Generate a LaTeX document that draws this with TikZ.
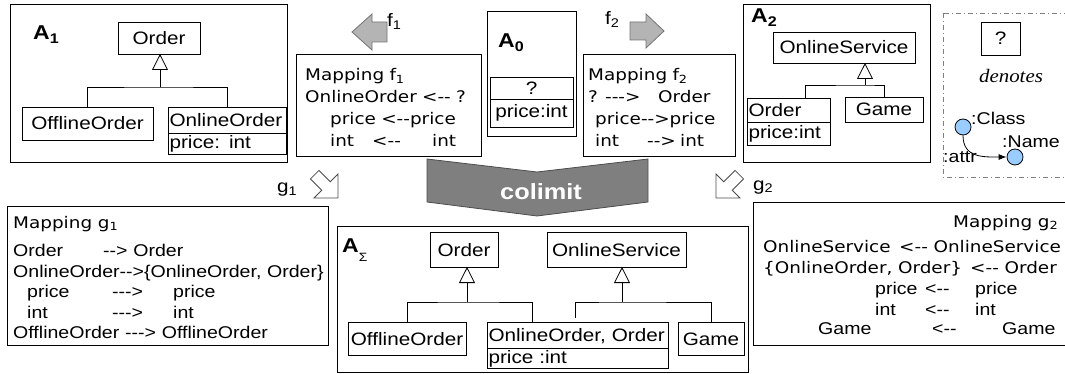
\documentclass[tikz,border=0pt]{standalone}
\usepackage{fontspec}
\setmainfont[FakeStretch=1.15]{Liberation Sans}
\newfontfamily\vfam[FakeStretch=1.15]{DejaVu Sans}
\newfontfamily\tfam[FakeStretch=1.1]{Liberation Serif}
\usetikzlibrary{arrows.meta,calc,positioning}
\definecolor{arrgray}{RGB}{180,180,180}
\definecolor{colgray}{RGB}{127,127,127}
\definecolor{dotblue}{RGB}{153,204,255}
\newcommand\cfont{\fontsize{18}{20}\selectfont}
\newcommand\afont{\fontsize{17}{20.5}\selectfont}
\newcommand\vtxt{\vfam\fontsize{16}{20.5}\selectfont}
\newcommand\putat[2]{\makebox[0pt][l]{\hspace*{#1}#2}}
\newcommand\lar{<\kern0pt-\kern0pt-}
\newcommand\rar{-\kern0pt->}
\newcommand\rrar{-\kern0pt-\kern0pt->}
\newcommand\alab[1]{\textbf{A}\textsubscript{\textbf{#1}}}

\begin{document}
\begin{tikzpicture}[x=1pt,y=-1pt,
  pane/.style={draw,line width=1pt,inner sep=0pt,outer sep=0pt},
  box/.style={draw,line width=0.8pt,inner sep=1.5pt,outer sep=0pt,font=\cfont,text height=13pt,text depth=0pt},
  slot/.style={box,align=left},
  attr/.style={text depth=3pt},
  lab/.style={anchor=base west,inner sep=0pt,font=\fontsize{17}{17}\selectfont},
  albl/.style={lab,font=\fontsize{20}{20}\selectfont},
  maptxt/.style={anchor=base west,inner sep=0pt,text width=330pt,align=left},
  inh/.style={-{Triangle[open,length=16pt,width=16pt]},line width=0.8pt},
  link/.style={line width=0.8pt},
  farr/.style={fill=arrgray,draw=black!55,line width=0.8pt},
  garr/.style={fill=white,draw=black!70,line width=0.8pt},
  dot/.style={circle,draw,fill=dotblue,minimum size=16pt,inner sep=0pt,line width=0.8pt}]
\useasboundingbox (0,0) rectangle (1065,374);
% A1
\node[pane,minimum width=277,minimum height=158] (A1) at (148.5,84) {};
\node[albl] (A1l) at (33,40) {\alab{1}};
\node[box,minimum width=82,minimum height=32] (ord1) at (159,38) {Order};
\node[box,minimum width=131,minimum height=33] (off1) at (87.5,123.5) {OfflineOrder};
\node[slot,text width=115,minimum height=26] (onl1) at (227,120) {OnlineOrder};
\node[slot,attr,text width=115,minimum height=21,below=0pt of onl1] (onl1a) {price: int};
\coordinate (j1) at (160,87);
\draw[link] (off1.north) |- (j1) -| (onl1.north);
\draw[inh] (j1) -- (j1 |- ord1.south);
% f1
\draw[farr] (352,32) -- (372,14) -- (372,22) -- (387,22) -- (387,42) -- (372,42) -- (372,50) -- cycle;
\node[lab,font=\cfont] (f1l) at (387,27) {f\textsubscript{1}};
\node[pane,minimum width=185,minimum height=102] (m1) at (388.5,106) {};
\node[maptxt,font=\vfam\fontsize{16}{22}\selectfont] (m1t) at (305,81) {Mapping f\textsubscript{1}\\
OnlineOrder \lar\ ?\\
\putat{25pt}{price \lar price}\\
\putat{25pt}{int}\putat{67pt}{\lar}\putat{127pt}{int}};
% A0
\node[pane,minimum width=89,minimum height=125] (A0) at (531.5,74.5) {};
\node[albl] (A0l) at (498,48) {\alab{0}};
\node[box,minimum width=83,minimum height=22] (q0) at (531.5,88) {?};
\node[box,attr,minimum width=83,minimum height=28,below=0pt of q0] (q0a) {price:int};
% f2
\draw[farr] (664,31) -- (646,14) -- (646,22) -- (630,22) -- (630,40) -- (646,40) -- (646,48) -- cycle;
\node[lab,font=\cfont] (f2l) at (605,25) {f\textsubscript{2}};
\node[pane,minimum width=152,minimum height=102] (m2) at (659,106) {};
\node[maptxt,font=\vfam\fontsize{16}{22}\selectfont] (m2t) at (588,81) {Mapping f\textsubscript{2}\\
\putat{0pt}{?}\putat{17pt}{\rrar}\putat{70pt}{Order}\\
\putat{7pt}{price\rar price}\\
\putat{7pt}{int}\putat{59pt}{\rar}\putat{92pt}{int}};
% A2
\node[pane,minimum width=187,minimum height=158] (A2) at (836.5,84) {};
\node[albl] (A2l) at (751,23) {\alab{2}};
\node[box,minimum width=142,minimum height=31] (os2) at (844,47.5) {OnlineService};
\node[slot,text width=80,minimum height=24] (ord2) at (788.5,110) {Order};
\node[slot,attr,text width=80,minimum height=23,below=0pt of ord2] (ord2a) {price:int};
\node[box,minimum width=78,minimum height=25] (gam2) at (884,109.5) {Game};
\coordinate (j2) at (865,85); \coordinate (l2) at (805,85);
\draw[link] (ord2.north -| l2) -- (l2) -- (j2) -| (gam2.north);
\draw[inh] (j2) -- (j2 |- os2.south);
% legend
\draw[gray,line width=0.8pt,dash pattern=on 5pt off 3pt on 1pt off 3pt] (943,13) rectangle (1070,177);
\node[box,minimum width=39,minimum height=33] (qL) at (1000.5,38.5) {?};
\node[anchor=base,inner sep=0pt,font=\tfam\itshape\fontsize{19}{19}\selectfont] (den) at (1011,83) {denotes};
\node[dot] (cls) at (963,127) {};
\node[dot] (nam) at (1015,157) {};
\draw[-{Latex[length=8pt,width=6pt]},line width=0.8pt] (cls) to[out=-90,in=180,looseness=1.2] (nam);
\node[lab] (clsl) at (971,125) {:Class};
\node[lab] (naml) at (1002,148) {:Name};
\node[lab] (attl) at (943,163) {:attr};
% colimit
\draw[fill=colgray,draw=black!70,line width=0.8pt] (427,159) -- (537,172) -- (648,159) -- (648,202) -- (537,216) -- (427,202) -- cycle;
\node[anchor=base,inner sep=0pt,text=white,font=\bfseries\fontsize{22}{22}\selectfont] (colim) at (541,200) {colimit};
% g1, g2
\foreach \tx/\ty/\r in {338/198/-45,716/198/-135}
  \draw[garr,shift={(\tx,\ty)},rotate=\r] (0,0) -- (-17,17) -- (-17,6) -- (-33,6) -- (-33,-6) -- (-17,-6) -- (-17,-17) -- cycle;
\node[lab,font=\cfont] (g1l) at (277,193) {g\textsubscript{1}};
\node[lab,font=\cfont] (g2l) at (753,190) {g\textsubscript{2}};
\node[pane,minimum width=321,minimum height=138] (m3) at (167.5,276) {};
\node[maptxt,font=\afont] (m3t) at (13,228) {{\vtxt Mapping g\textsubscript{1}}\\[8pt]
\putat{0pt}{Order}\putat{90pt}{\rar\ Order}\\
OnlineOrder\rar\{OnlineOrder, Order\}\\
\putat{14pt}{price}\putat{99pt}{\rrar}\putat{160pt}{price}\\
\putat{14pt}{int}\putat{99pt}{\rrar}\putat{160pt}{int}\\
\putat{0pt}{OfflineOrder}\putat{112pt}{\rrar\ OfflineOrder}};
\node[pane,minimum width=322,minimum height=142] (m4) at (914,274) {};
\node[maptxt,font=\afont] (m4t) at (753,227) {\putat{200pt}{\vtxt Mapping g\textsubscript{2}}\\[5pt]
\putat{10pt}{\vtxt OnlineService}\putat{146pt}{\vtxt\lar\ OnlineService}\\[1pt]
\putat{10pt}{\vtxt\{OnlineOrder, Order\}}\putat{217pt}{\vtxt\lar\ Order}\\
\putat{122pt}{price}\putat{172pt}{\lar}\putat{222pt}{price}\\
\putat{122pt}{int}\putat{172pt}{\lar}\putat{222pt}{int}\\[-1pt]
\putat{65pt}{Game}\putat{179pt}{\lar}\putat{249pt}{Game}};
% A sigma
\node[pane,minimum width=411,minimum height=146] (AS) at (542.5,299) {};
\node[albl] (ASl) at (342,252) {\textbf{A}\raisebox{-9pt}{\fontsize{12}{12}\selectfont Σ}};
\node[box,minimum width=68,minimum height=35] (ordS) at (464,249.5) {Order};
\node[box,minimum width=139,minimum height=35] (osS) at (616.5,249.5) {OnlineService};
\node[box,minimum width=118,minimum height=33] (offS) at (407,338.5) {OfflineOrder};
\node[slot,text width=178,minimum height=26] (onlS) at (577.5,335) {OnlineOrder,~Order};
\node[slot,attr,text width=178,minimum height=20,below=0pt of onlS] (onlSa) {price :int};
\node[box,minimum width=66,minimum height=33] (gamS) at (711,338.5) {Game};
\coordinate (jS) at (467,302); \coordinate (rS) at (532,302);
\draw[link] (offS.north) |- (jS) -- (rS) -- (rS |- onlS.north);
\draw[inh] (jS) -- (jS |- ordS.south);
\coordinate (kS) at (622,302); \coordinate (lS) at (575,302);
\draw[link] ($(lS |- onlS.north)+(0,-4)$) -- (lS) -- (kS) -| (gamS.north);
\draw[inh] (kS) -- (kS |- osS.south);
\end{tikzpicture}
\end{document}
